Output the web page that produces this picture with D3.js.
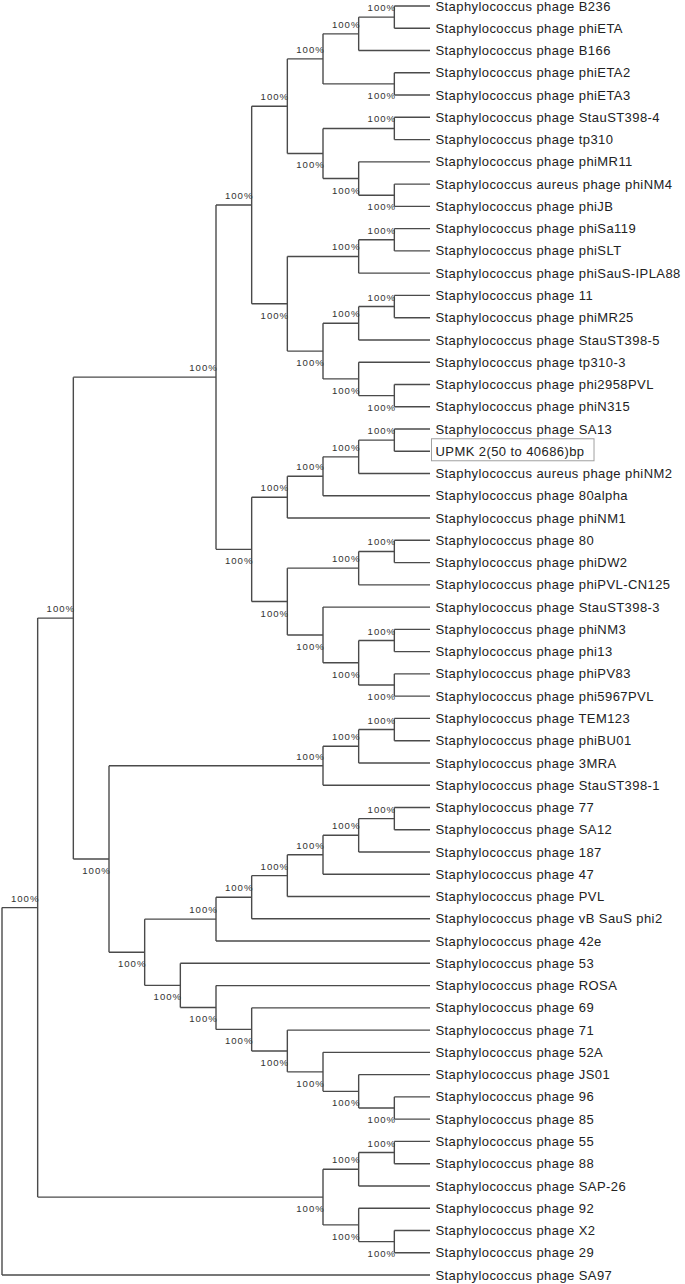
<!DOCTYPE html>
<html><head><meta charset="utf-8">
<script src="https://cdn.jsdelivr.net/npm/d3@7"></script>
<style>html,body{margin:0;padding:0;background:#fff;}svg{display:block;}</style>
</head><body><svg id="c" width="685" height="1284"></svg>
<script>
// Leaf labels, top to bottom
const leafNames = [
  "Staphylococcus phage B236", "Staphylococcus phage phiETA", "Staphylococcus phage B166",
  "Staphylococcus phage phiETA2", "Staphylococcus phage phiETA3", "Staphylococcus phage StauST398-4",
  "Staphylococcus phage tp310", "Staphylococcus phage phiMR11", "Staphylococcus aureus phage phiNM4",
  "Staphylococcus phage phiJB", "Staphylococcus phage phiSa119", "Staphylococcus phage phiSLT",
  "Staphylococcus phage phiSauS-IPLA88", "Staphylococcus phage 11", "Staphylococcus phage phiMR25",
  "Staphylococcus phage StauST398-5", "Staphylococcus phage tp310-3", "Staphylococcus phage phi2958PVL",
  "Staphylococcus phage phiN315", "Staphylococcus phage SA13", "UPMK 2(50 to 40686)bp",
  "Staphylococcus aureus phage phiNM2", "Staphylococcus phage 80alpha", "Staphylococcus phage phiNM1",
  "Staphylococcus phage 80", "Staphylococcus phage phiDW2", "Staphylococcus phage phiPVL-CN125",
  "Staphylococcus phage StauST398-3", "Staphylococcus phage phiNM3", "Staphylococcus phage phi13",
  "Staphylococcus phage phiPV83", "Staphylococcus phage phi5967PVL", "Staphylococcus phage TEM123",
  "Staphylococcus phage phiBU01", "Staphylococcus phage 3MRA", "Staphylococcus phage StauST398-1",
  "Staphylococcus phage 77", "Staphylococcus phage SA12", "Staphylococcus phage 187",
  "Staphylococcus phage 47", "Staphylococcus phage PVL", "Staphylococcus phage vB SauS phi2",
  "Staphylococcus phage 42e", "Staphylococcus phage 53", "Staphylococcus phage ROSA",
  "Staphylococcus phage 69", "Staphylococcus phage 71", "Staphylococcus phage 52A",
  "Staphylococcus phage JS01", "Staphylococcus phage 96", "Staphylococcus phage 85",
  "Staphylococcus phage 55", "Staphylococcus phage 88", "Staphylococcus phage SAP-26",
  "Staphylococcus phage 92", "Staphylococcus phage X2", "Staphylococcus phage 29",
  "Staphylococcus phage SA97"
];
const highlightedLeaf = "UPMK 2(50 to 40686)bp";

// Topology (nested arrays of leaf indices)
const cladeETA   = [[[0,1],2],[3,4]];
const cladeTP310 = [[5,6],[7,[8,9]]];
const cladeSLT   = [[[10,11],12],[[[13,14],15],[16,[17,18]]]];
const cladeSA13  = [[[[19,20],21],22],23];
const cladeNM3   = [[[24,25],26],[27,[[28,29],[30,31]]]];
const cladeTEM   = [[[32,33],34],35];
const cladeVB    = [[[[[[36,37],38],39],40],41],42];
const cladeROSA  = [43,[44,[45,[46,[47,[48,[49,50]]]]]]];
const clade55    = [[[51,52],53],[54,[55,56]]];
const cladeUpper = [[[cladeETA, cladeTP310], cladeSLT], [cladeSA13, cladeNM3]];
const cladeLower = [cladeTEM, [cladeVB, cladeROSA]];
const cladeMain  = [[cladeUpper, cladeLower], clade55];
const treeShape  = [cladeMain, 57];

// Bootstrap support of every internal (non-root) node
const supportValues = [
  100,100,100,100,100,100,100,100,
  100,100,100,100,100,100,100,100,
  100,100,100,100,100,100,100,100,
  100,100,100,100,100,100,100,100,
  100,100,100,100,100,100,100,100,
  100,100,100,100,100,100,100,100,
  100,100,100,100,100,100,100,100
];

const svg = d3.select("#c");
svg.append("rect").attr("width", 685).attr("height", 1284).attr("fill", "#fff");

const root = d3.hierarchy(treeShape, d => Array.isArray(d) ? d : null);
const xScale = d3.scaleLinear().domain([0, root.height]).range([430, 2]);
const yScale = d3.scaleLinear().domain([0, leafNames.length - 1]).range([6, 1275]);

root.eachAfter(n => {
  n.px = xScale(n.height);
  if (!n.children) n.py = yScale(n.data);
  else n.py = (n.children[0].py + n.children[n.children.length - 1].py) / 2;
});

const lineColor = "#4a4a4a";
const gLines = svg.append("g").attr("stroke", lineColor).attr("stroke-width", 1.4).attr("fill", "none");

// vertical connectors
root.descendants().filter(n => n.children).forEach(n => {
  gLines.append("line")
    .attr("x1", n.px).attr("x2", n.px)
    .attr("y1", n.children[0].py).attr("y2", n.children[n.children.length - 1].py);
});
// horizontal branches
root.descendants().filter(n => n.parent).forEach(n => {
  gLines.append("line")
    .attr("x1", n.parent.px).attr("x2", n.px)
    .attr("y1", n.py).attr("y2", n.py);
});

// support labels
const internal = root.descendants().filter(n => n.children && n.parent);
const gSup = svg.append("g")
  .attr("font-family", "'Liberation Sans', Arial, sans-serif")
  .attr("font-size", 9.6).attr("fill", "#333")
  .attr("text-anchor", "end").attr("letter-spacing", "1px");
internal.forEach((n, i) => {
  const first = n.parent.children[0] === n;
  gSup.append("text")
    .attr("x", n.px + 1.8)
    .attr("y", first ? n.py - 6 : n.py + 15)
    .text(supportValues[i] + "%");
});

// leaf labels
const gLeaf = svg.append("g")
  .attr("font-family", "'Liberation Sans', Arial, sans-serif")
  .attr("font-size", 13).attr("fill", "#222").attr("letter-spacing", "0.42px");
root.leaves().forEach(n => {
  const name = leafNames[n.data];
  const t = gLeaf.append("text")
    .attr("x", xScale(0) + 5.5)
    .attr("y", n.py + 4.6)
    .text(name);
  if (name === highlightedLeaf) {
    const bb = t.node().getBBox();
    svg.insert("rect", "g")
      .attr("x", xScale(0) + 1.5).attr("y", n.py - 12.5)
      .attr("width", bb.x + bb.width - xScale(0) + 8)
      .attr("height", 22)
      .attr("fill", "#fff").attr("stroke", "#a0a0a0").attr("stroke-width", 1);
  }
});
</script>
</body></html>
